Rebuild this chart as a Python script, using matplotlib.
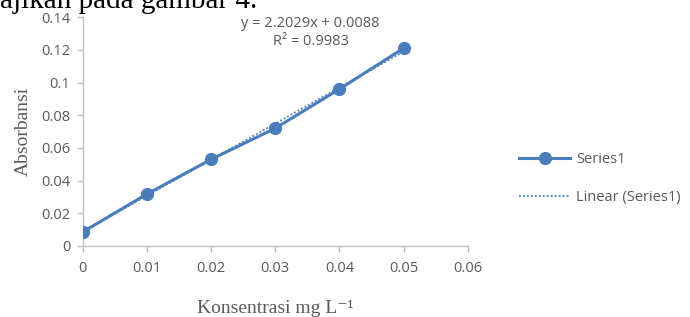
import numpy as np
import matplotlib.pyplot as plt

# data
konsentrasi = [0.0, 0.01, 0.02, 0.03, 0.04, 0.05]
absorbansi = [0.0086, 0.0318, 0.0530, 0.0720, 0.0960, 0.1210]
slope = 2.2029
intercept = 0.0088
r2 = 0.9983
xticks = [0, 0.01, 0.02, 0.03, 0.04, 0.05, 0.06]
xticklabels = ['0', '0.01', '0.02', '0.03', '0.04', '0.05', '0.06']
yticks = [0, 0.02, 0.04, 0.06, 0.08, 0.1, 0.12, 0.14]
yticklabels = ['0', '0.02', '0.04', '0.06', '0.08', '0.1', '0.12', '0.14']

blue = '#4a7ebb'
grey = '#595959'
axcol = '#bfbfbf'

fig = plt.figure(figsize=(6.9, 3.17), dpi=100)
ax = fig.add_axes([0.120, 0.224, 0.558, 0.722])

x = np.array(konsentrasi)
ax.plot(x, absorbansi, color=blue, lw=2.2, marker='o', ms=8.5, label='Series1', zorder=3)
ax.plot(x, slope * x + intercept, color=blue, lw=1.3, ls=(0, (1, 1.2)),
        label='Linear (Series1)', zorder=4)

ax.set_xlim(0, 0.06)
ax.set_ylim(0, 0.14)
ax.set_xticks(xticks)
ax.set_xticklabels(xticklabels)
ax.set_yticks(yticks)
ax.set_yticklabels(yticklabels)
for lab in ax.get_xticklabels() + ax.get_yticklabels():
    lab.set_family('Open Sans')
    lab.set_fontsize(10.5)
    lab.set_color(grey)
ax.tick_params(colors=axcol, labelcolor=grey, length=4, width=1)
ax.tick_params(axis='x', pad=7)
ax.tick_params(axis='y', pad=5)
for s in ['top', 'right']:
    ax.spines[s].set_visible(False)
for s in ['left', 'bottom']:
    ax.spines[s].set_color(axcol)
    ax.spines[s].set_linewidth(1)
ax.spines['bottom'].set_zorder(1)

ax.set_xlabel('Konsentrasi mg L\u207b\u00b9', family=['Liberation Serif', 'DejaVu Serif'],
              fontsize=14, color=grey, labelpad=17)
ax.set_ylabel('Absorbansi', family='Liberation Serif', fontsize=14, color=grey, labelpad=7)

eq = f'y = {slope:.4f}x + {intercept:.4f}\nR\u00b2 = {r2:.4f}'
ax.text(0.0355, 0.1305, eq, ha='center', va='center', family='Open Sans',
        fontsize=10.5, color=grey, linespacing=1.3)

leg = ax.legend(loc='center left', bbox_to_anchor=(1.1, 0.295), frameon=False,
                prop={'family': 'Open Sans', 'size': 10.5}, handlelength=3.5,
                labelspacing=1.6, handletextpad=0.4)
for t in leg.get_texts():
    t.set_color(grey)

fig.text(0.0, 0.974, 'ajikan pada gambar 4.', family='Liberation Serif', fontsize=21,
         va='baseline', ha='left', color='black')

fig.savefig('out.png', dpi=100)
